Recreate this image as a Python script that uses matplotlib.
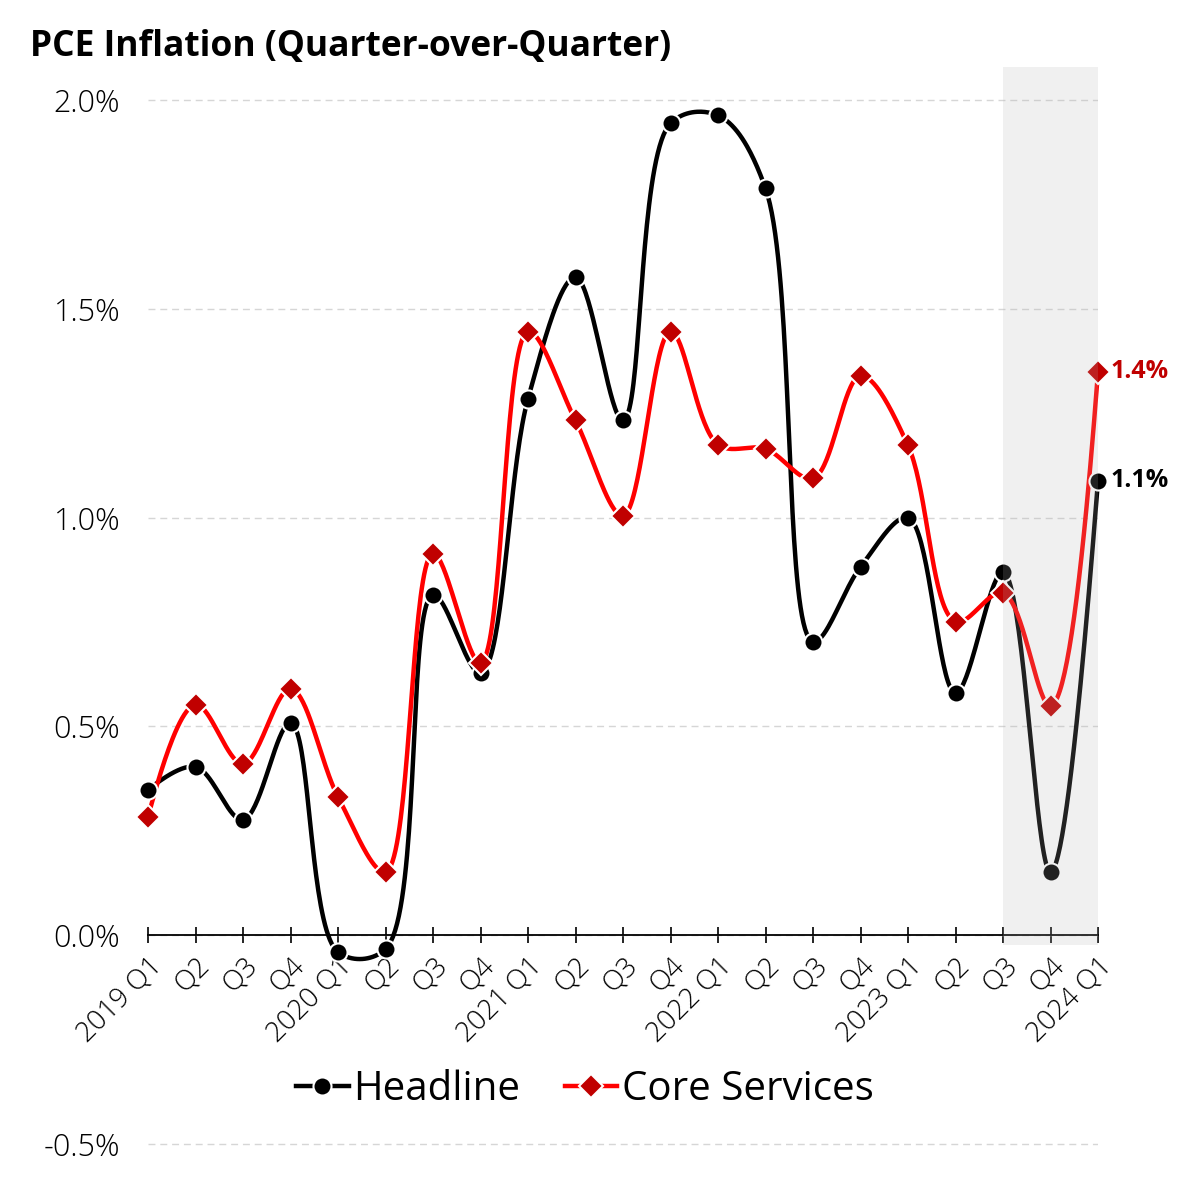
import numpy as np
import matplotlib.pyplot as plt
from matplotlib.lines import Line2D

quarters = ['2019 Q1', 'Q2', 'Q3', 'Q4',
            '2020 Q1', 'Q2', 'Q3', 'Q4',
            '2021 Q1', 'Q2', 'Q3', 'Q4',
            '2022 Q1', 'Q2', 'Q3', 'Q4',
            '2023 Q1', 'Q2', 'Q3', 'Q4',
            '2024 Q1']
headline = [0.348, 0.403, 0.276, 0.508,
            -0.041, -0.034, 0.815, 0.628,
            1.285, 1.576, 1.233, 1.945,
            1.964, 1.789, 0.703, 0.882,
            1.000, 0.580, 0.870, 0.151,
            1.089]
core_services = [0.283, 0.552, 0.410, 0.590,
                 0.331, 0.151, 0.914, 0.652,
                 1.446, 1.233, 1.005, 1.446,
                 1.175, 1.165, 1.094, 1.340,
                 1.173, 0.751, 0.820, 0.549,
                 1.350]
yticks = [-0.5, 0.0, 0.5, 1.0, 1.5, 2.0]
shade_from = 18  # 2023 Q3 onwards is shaded

plt.rcParams['font.family'] = ['Open Sans', 'DejaVu Sans']


def tangent(p0, p1, p2, smooth=1.0):
    # catmull-rom style control points, same idea as plotly's spline shape
    d1 = p0 - p1
    d2 = p2 - p1
    d1a = np.hypot(*d1) ** 0.5
    d2a = np.hypot(*d2) ** 0.5
    num = (d2a * d2a * d1 - d1a * d1a * d2) * smooth
    den1 = 3 * d2a * (d1a + d2a)
    den2 = 3 * d1a * (d1a + d2a)
    return p1 + num / den1, p1 - num / den2


def spline(ax, xs, ys, n=40):
    pts = ax.transData.transform(np.column_stack([xs, ys]))
    tans = [tangent(pts[i - 1], pts[i], pts[i + 1]) for i in range(1, len(pts) - 1)]
    t = np.linspace(0, 1, n)[:, None]
    out = []
    # first segment quadratic
    a, c, b = pts[0], tans[0][0], pts[1]
    out.append((1 - t) ** 2 * a + 2 * (1 - t) * t * c + t ** 2 * b)
    for i in range(2, len(pts) - 1):
        a, c1, c2, b = pts[i - 1], tans[i - 2][1], tans[i - 1][0], pts[i]
        out.append((1 - t) ** 3 * a + 3 * (1 - t) ** 2 * t * c1 + 3 * (1 - t) * t ** 2 * c2 + t ** 3 * b)
    a, c, b = pts[-2], tans[-1][1], pts[-1]
    out.append((1 - t) ** 2 * a + 2 * (1 - t) * t * c + t ** 2 * b)
    curve = ax.transData.inverted().transform(np.vstack(out))
    return curve[:, 0], curve[:, 1]


fig = plt.figure(figsize=(12, 11.92), dpi=100)
ax = fig.add_axes([148 / 1200, 40 / 1192, 950 / 1200, 1085 / 1192])
x = np.arange(len(quarters))
ax.set_xlim(0, len(quarters) - 1)
ax.set_ylim(-0.52, 2.08)

# axis line sits at zero (set this before the tick labels, it resets them)
for s in ['left', 'right', 'top']:
    ax.spines[s].set_visible(False)
ax.spines['bottom'].set_position(('data', 0))
ax.spines['bottom'].set_linewidth(1.3)
ax.spines['bottom'].set_zorder(4)

# smooth lines
sx, sy = spline(ax, x, headline)
ax.plot(sx, sy, color='black', lw=3.2, zorder=3, solid_capstyle='round', clip_on=False)
sx, sy = spline(ax, x, core_services)
ax.plot(sx, sy, color='#ff0000', lw=3.2, zorder=3, solid_capstyle='round', clip_on=False)

ax.plot(x, headline, ls='none', marker='o', ms=13, mfc='black', mec='white', mew=1.5,
        zorder=4, clip_on=False)
ax.plot(x, core_services, ls='none', marker='D', ms=12, mfc='#c00000', mec='white', mew=1.5,
        zorder=4, clip_on=False)

# shaded recent quarters, drawn above the lines
ax.fill_between([shade_from, len(quarters) - 1], -0.025, 2.08, color='#b1b1b1', alpha=0.19,
                lw=0, zorder=5)

ax.annotate(f'{core_services[-1]:.1f}%', xy=(x[-1], core_services[-1]), xytext=(9, 0),
            textcoords='offset points', va='center', ha='left', fontsize=18,
            fontweight='bold', color='#c00000', annotation_clip=False, zorder=6)
ax.annotate(f'{headline[-1]:.1f}%', xy=(x[-1], headline[-1]), xytext=(9, 0),
            textcoords='offset points', va='center', ha='left', fontsize=18,
            fontweight='bold', color='black', annotation_clip=False, zorder=6)

ax.set_yticks(yticks)
ax.set_yticklabels([f'{v:.1f}%' for v in yticks], fontsize=22, fontweight='light')
ax.set_xticks(x)
ax.set_xticklabels(quarters, rotation=45, ha='right', rotation_mode='anchor',
                   fontsize=20, fontweight='light')
ax.yaxis.grid(True, color='#d6d6d6', lw=1, ls=(0, (5, 3.5)))
ax.set_axisbelow(True)
ax.tick_params(axis='y', length=0, pad=20)
ax.tick_params(axis='x', direction='inout', length=12, width=1.2, pad=6)

handles = [Line2D([], [], color='black', lw=3.2, marker='o', ms=13, mfc='black', mec='white', mew=1.5),
           Line2D([], [], color='#ff0000', lw=3.2, marker='D', ms=12, mfc='#c00000', mec='white', mew=1.5)]
ax.legend(handles, ['Headline', 'Core Services'], loc='center', bbox_to_anchor=(0.46, 0.057),
          ncol=2, frameon=False, fontsize=29, handlelength=1.3, handletextpad=0.12,
          columnspacing=1.1)

fig.text(30 / 1200, 1 - 47 / 1192, 'PCE Inflation (Quarter-over-Quarter)', fontsize=25.5,
         fontweight='bold', va='center', ha='left')

fig.savefig('out.png', dpi=100)
